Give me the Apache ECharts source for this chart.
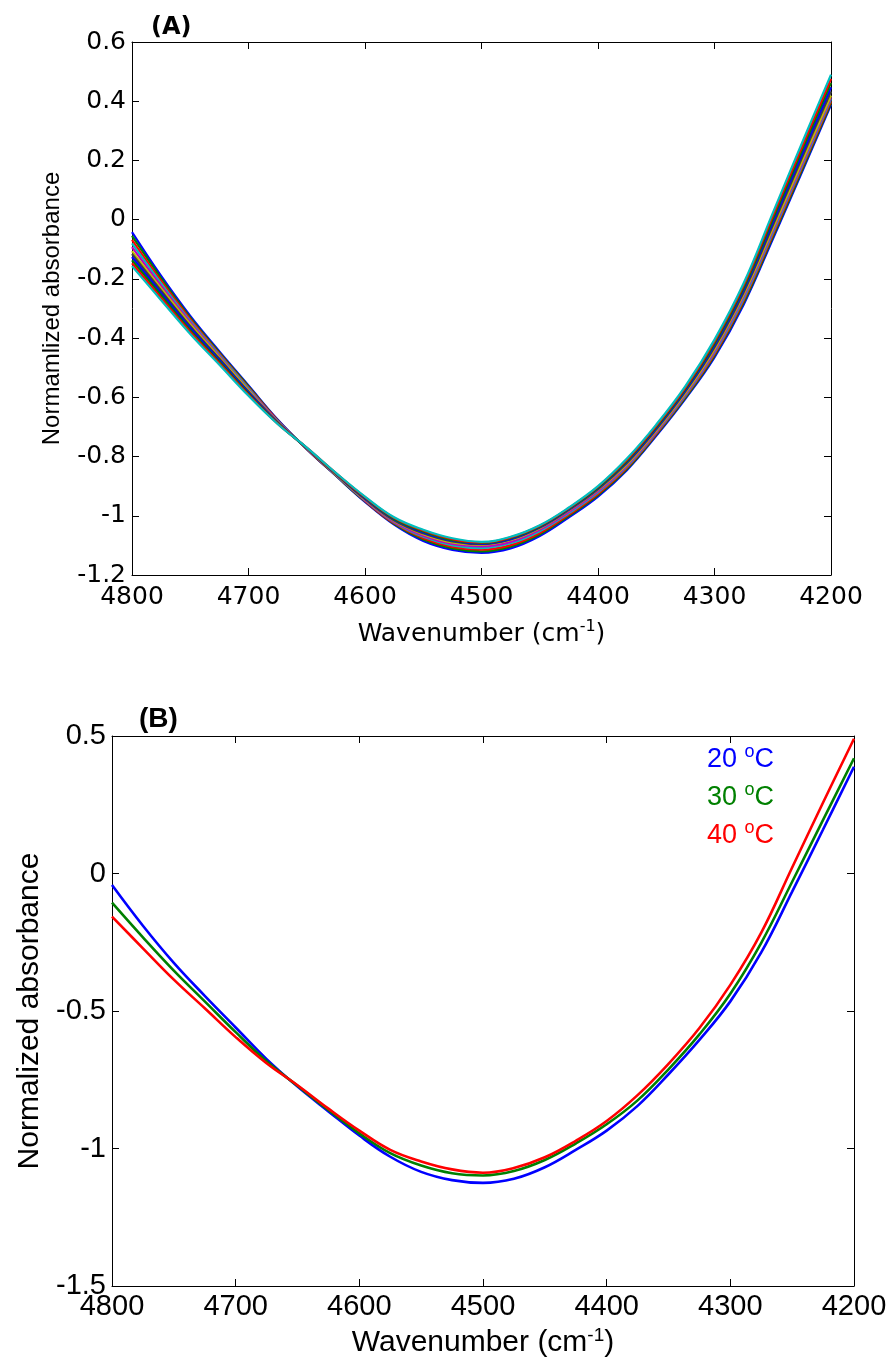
<!DOCTYPE html>
<html>
<head>
<meta charset="utf-8">
<script src="https://cdn.jsdelivr.net/npm/echarts/dist/echarts.min.js"></script>
<style>
  html, body { margin: 0; padding: 0; background: #fff; }
  #main { width: 891px; height: 1367px; }
</style>
</head>
<body>
<div id="main"></div>
<script>
var myChart = echarts.init(document.getElementById('main'));

// wavenumber grid (cm-1)
var wavenumbers = [4800, 4775, 4750, 4725, 4700, 4675, 4650, 4625, 4600, 4575, 4550, 4525, 4500,
                   4475, 4450, 4425, 4400, 4375, 4350, 4325, 4300, 4275, 4250, 4225, 4200];

// normalized absorbance per temperature
var abs20 = [-0.042, -0.190, -0.325, -0.445, -0.560, -0.675, -0.775, -0.865, -0.953, -1.030, -1.085, -1.115, -1.125,
             -1.110, -1.068, -1.005, -0.935, -0.845, -0.730, -0.605, -0.465, -0.287, -0.066, 0.160, 0.388];
var abs22 = [-0.055, -0.198, -0.331, -0.449, -0.563, -0.677, -0.774, -0.864, -0.951, -1.027, -1.080, -1.110, -1.120,
             -1.104, -1.063, -1.000, -0.930, -0.841, -0.726, -0.601, -0.459, -0.280, -0.059, 0.167, 0.394];
var abs24 = [-0.068, -0.207, -0.336, -0.453, -0.567, -0.678, -0.774, -0.863, -0.950, -1.025, -1.076, -1.105, -1.114,
             -1.099, -1.058, -0.996, -0.926, -0.837, -0.723, -0.597, -0.454, -0.273, -0.052, 0.174, 0.400];
var abs26 = [-0.080, -0.215, -0.342, -0.457, -0.570, -0.680, -0.773, -0.862, -0.948, -1.022, -1.071, -1.100, -1.109,
             -1.093, -1.052, -0.991, -0.921, -0.833, -0.719, -0.593, -0.448, -0.266, -0.044, 0.181, 0.407];
var abs28 = [-0.093, -0.224, -0.347, -0.461, -0.574, -0.681, -0.773, -0.861, -0.947, -1.020, -1.067, -1.095, -1.103,
             -1.088, -1.047, -0.987, -0.917, -0.829, -0.716, -0.589, -0.443, -0.259, -0.037, 0.188, 0.413];
var abs30 = [-0.106, -0.232, -0.353, -0.465, -0.577, -0.683, -0.772, -0.860, -0.945, -1.017, -1.062, -1.090, -1.098,
             -1.082, -1.042, -0.982, -0.912, -0.825, -0.712, -0.585, -0.437, -0.252, -0.030, 0.195, 0.419];
var abs32 = [-0.116, -0.240, -0.360, -0.470, -0.581, -0.684, -0.772, -0.859, -0.943, -1.015, -1.059, -1.087, -1.096,
             -1.080, -1.040, -0.980, -0.910, -0.821, -0.708, -0.580, -0.431, -0.245, -0.020, 0.208, 0.433];
var abs34 = [-0.126, -0.248, -0.366, -0.475, -0.584, -0.686, -0.771, -0.858, -0.941, -1.012, -1.056, -1.084, -1.094,
             -1.078, -1.038, -0.978, -0.907, -0.817, -0.704, -0.576, -0.424, -0.237, -0.009, 0.220, 0.447];
var abs36 = [-0.137, -0.256, -0.373, -0.480, -0.588, -0.687, -0.771, -0.857, -0.939, -1.010, -1.053, -1.082, -1.092,
             -1.075, -1.036, -0.976, -0.905, -0.814, -0.700, -0.571, -0.418, -0.230, 0.001, 0.233, 0.462];
var abs38 = [-0.147, -0.264, -0.379, -0.485, -0.591, -0.689, -0.770, -0.856, -0.937, -1.007, -1.050, -1.079, -1.090,
             -1.073, -1.034, -0.974, -0.902, -0.810, -0.696, -0.567, -0.411, -0.222, 0.012, 0.245, 0.476];
var abs40 = [-0.157, -0.272, -0.386, -0.490, -0.595, -0.690, -0.770, -0.855, -0.935, -1.005, -1.047, -1.076, -1.088,
             -1.071, -1.032, -0.972, -0.900, -0.806, -0.692, -0.562, -0.405, -0.215, 0.022, 0.258, 0.490];

var allTemps = ['20', '22', '24', '26', '28', '30', '32', '34', '36', '38', '40'];
var allCurves = [abs20, abs22, abs24, abs26, abs28, abs30, abs32, abs34, abs36, abs38, abs40];
var legendTemps = ['20', '30', '40'];
var legendCurves = [abs20, abs30, abs40];
var legendColors = ['#0000ff', '#008000', '#ff0000'];
// matlab default line colour order
var cycleColors = ['#0000ff', '#008000', '#ff0000', '#00bfbf', '#bf00bf', '#bfbf00', '#404040'];

function pairs(vals) {
    return wavenumbers.map(function (w, i) { return [w, vals[i]]; });
}

var fontA = 'DejaVu Sans';
var fontB = 'Liberation Sans';

function plain(v) { return String(v); }

function xAx(grid, pos, showLabels, font, size, name, nameSize, nameGap, labelMargin) {
    return {
        type: 'value', gridIndex: grid, position: pos,
        min: 4200, max: 4800, interval: 100, inverse: true,
        axisLine: { show: true, onZero: false, lineStyle: { color: '#000', width: 1 } },
        axisTick: { show: true, inside: true, length: 7, lineStyle: { color: '#000' } },
        axisLabel: { show: showLabels, color: '#000', fontFamily: font, fontSize: size, formatter: plain,
                     margin: labelMargin, showMinLabel: true, showMaxLabel: true },
        splitLine: { show: false },
        name: name || '', nameLocation: 'middle', nameGap: nameGap || 0,
        nameTextStyle: { color: '#000', fontFamily: font, fontSize: nameSize,
                         rich: { sup: { fontFamily: font, fontSize: Math.round(nameSize * 0.63), padding: [0, 0, 14, 0] } } }
    };
}

function yAx(grid, pos, showLabels, min, max, step, font, size, name, nameSize, nameGap) {
    return {
        type: 'value', gridIndex: grid, position: pos,
        min: min, max: max, interval: step,
        axisLine: { show: true, onZero: false, lineStyle: { color: '#000', width: 1 } },
        axisTick: { show: true, inside: true, length: 7, lineStyle: { color: '#000' } },
        axisLabel: { show: showLabels, color: '#000', fontFamily: font, fontSize: size, formatter: plain,
                     margin: 6, showMinLabel: true, showMaxLabel: true },
        splitLine: { show: false },
        name: name || '', nameLocation: 'middle', nameGap: nameGap || 0,
        nameTextStyle: { color: '#000', fontFamily: fontB, fontSize: nameSize }
    };
}

var series = [];
allCurves.forEach(function (c, i) {
    series.push({
        name: 'A ' + allTemps[i],
        type: 'line', xAxisIndex: 0, yAxisIndex: 0,
        showSymbol: false, smooth: 0.4, silent: true,
        lineStyle: { color: cycleColors[i % cycleColors.length], width: 2.2 },
        data: pairs(c)
    });
});
legendCurves.forEach(function (c, i) {
    series.push({
        name: legendTemps[i],
        type: 'line', xAxisIndex: 2, yAxisIndex: 2,
        showSymbol: false, smooth: 0.4, silent: true,
        color: legendColors[i],
        lineStyle: { color: legendColors[i], width: 2.6 },
        data: pairs(c)
    });
});

option = {
    backgroundColor: '#fff',
    animation: false,
    title: [
        { text: '(A)', left: 151, top: 16, padding: 0,
          textStyle: { fontFamily: fontA, fontWeight: 'bold', fontSize: 24, color: '#000' } },
        { text: '(B)', left: 139, top: 705, padding: 0,
          textStyle: { fontFamily: fontB, fontWeight: 'bold', fontSize: 28, color: '#000' } }
    ],
    legend: {
        orient: 'vertical', left: 697, top: 738,
        icon: 'none', itemWidth: 0, itemHeight: 10, itemGap: 6,
        selectedMode: false,
        data: legendTemps.map(function (t, i) {
            return { name: t, textStyle: { color: legendColors[i] } };
        }),
        formatter: function (name) { return name + ' {sup|o}C'; },
        textStyle: {
            fontFamily: fontB, fontSize: 27, lineHeight: 30,
            rich: { sup: { fontFamily: fontB, fontSize: 18, padding: [0, 0, 16, 0] } }
        }
    },
    grid: [
        { left: 132, top: 42, width: 699, height: 533 },
        { left: 112, top: 736, width: 742, height: 550 }
    ],
    xAxis: [
        xAx(0, 'bottom', true, fontA, 25, 'Wavenumber (cm{sup|-1})', 25, 44, 10),
        xAx(0, 'top', false, fontA, 25, '', 25, 0, 8),
        xAx(1, 'bottom', true, fontB, 29, 'Wavenumber (cm{sup|-1})', 30, 40, 6),
        xAx(1, 'top', false, fontB, 29, '', 30, 0, 6)
    ],
    yAxis: [
        yAx(0, 'left', true, -1.2, 0.6, 0.2, fontA, 25, 'Normamlized absorbance', 24, 68),
        yAx(0, 'right', false, -1.2, 0.6, 0.2, fontA, 25, '', 24, 0),
        yAx(1, 'left', true, -1.5, 0.5, 0.5, fontB, 29, 'Normalized absorbance', 30, 56),
        yAx(1, 'right', false, -1.5, 0.5, 0.5, fontB, 29, '', 30, 0)
    ],
    series: series
};

myChart.setOption(option);
</script>
</body>
</html>
